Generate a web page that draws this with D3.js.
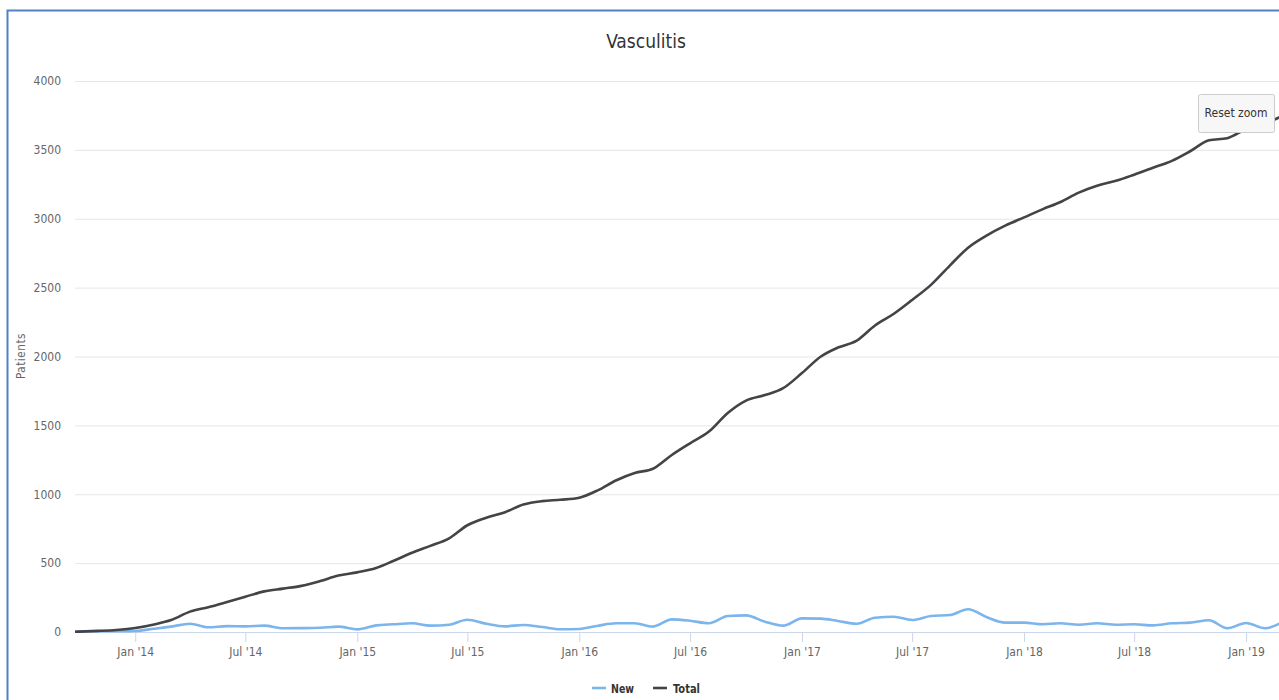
<!DOCTYPE html>
<html>
<head>
<meta charset="utf-8">
<script src="https://cdn.jsdelivr.net/npm/d3@7"></script>
<style>
  html, body { margin: 0; padding: 0; background: #fff; overflow: hidden; }
  svg { display: block; }
  text { font-family: "Liberation Sans Narrow", "DejaVu Sans Condensed", "Roboto Condensed", sans-serif; }
</style>
</head>
<body>
<svg id="chart" width="1279" height="700"></svg>
<script>
// ---- data (monthly) ----
const months = [
  "2013-09","2013-10","2013-11","2013-12",
  "2014-01","2014-02","2014-03","2014-04","2014-05","2014-06","2014-07","2014-08","2014-09","2014-10","2014-11","2014-12",
  "2015-01","2015-02","2015-03","2015-04","2015-05","2015-06","2015-07","2015-08","2015-09","2015-10","2015-11","2015-12",
  "2016-01","2016-02","2016-03","2016-04","2016-05","2016-06","2016-07","2016-08","2016-09","2016-10","2016-11","2016-12",
  "2017-01","2017-02","2017-03","2017-04","2017-05","2017-06","2017-07","2017-08","2017-09","2017-10","2017-11","2017-12",
  "2018-01","2018-02","2018-03","2018-04","2018-05","2018-06","2018-07","2018-08","2018-09","2018-10","2018-11","2018-12",
  "2019-01","2019-02","2019-03"
];
const newPatients = [
  2,4,5,6,
  7,24,39,60,34,43,41,46,27,28,31,39,
  19,48,56,63,46,53,89,60,41,51,36,20,
  22,46,63,63,39,92,82,63,116,121,75,46,
  99,97,80,60,104,111,87,116,123,165,107,68,
  68,56,63,53,63,53,56,48,63,68,85,27,
  65,27,70
];
const totalPatients = [
  0,3,8,15,
  29,55,87,148,180,218,256,295,315,335,370,410,
  433,465,515,575,625,680,775,830,870,925,950,960,
  975,1030,1100,1155,1185,1285,1370,1455,1590,1680,1720,1770,
  1880,2000,2065,2115,2225,2310,2410,2520,2660,2790,2880,2950,
  3010,3070,3120,3190,3240,3275,3320,3370,3420,3490,3570,3585,
  3650,3690,3745
];
const yTicks = [0,500,1000,1500,2000,2500,3000,3500,4000];
const xTickDates = ["2014-01","2014-07","2015-01","2015-07","2016-01","2016-07",
                    "2017-01","2017-07","2018-01","2018-07","2019-01"];
const xDomain = ["2013-09-24","2019-03-01"];
const seriesNames = ["New","Total"];
const seriesColors = ["#7cb5ec","#434348"];
const chartTitle = "Vasculitis";
const yTitle = "Patients";

// ---- layout ----
const FONT = '"Liberation Sans Narrow", "DejaVu Sans Condensed", sans-serif';
const svg = d3.select("#chart");
const plot = {left: 75, right: 1282, top: 81, bottom: 632};
const parseM = d3.timeParse("%Y-%m");
const parseD = d3.timeParse("%Y-%m-%d");

const x = d3.scaleTime()
  .domain(xDomain.map(parseD))
  .range([plot.left, plot.right]);
const y = d3.scaleLinear().domain([0, 4000]).range([plot.bottom, plot.top]);

// frame
svg.append("rect")
  .attr("x", 7.5).attr("y", 10.5)
  .attr("width", 1320).attr("height", 720)
  .attr("fill", "none").attr("stroke", "#4f81c3").attr("stroke-width", 2);

// title
svg.append("text")
  .attr("x", 646).attr("y", 48)
  .attr("text-anchor", "middle")
  .attr("font-size", 19).attr("fill", "#333333")
  .text(chartTitle);

// gridlines + y labels
const yAxis = d3.axisLeft(y).tickValues(yTicks).tickFormat(d3.format("d"))
  .tickSize(-(plot.right - plot.left + 20)).tickPadding(14);
const gy = svg.append("g").attr("transform", `translate(${plot.left},0)`).call(yAxis);
gy.select(".domain").remove();
gy.selectAll(".tick line").attr("stroke", "#e6e6e6").attr("stroke-width", 1);
gy.selectAll(".tick text").attr("font-size", 12).attr("fill", "#666666")
  .attr("font-family", FONT);

// y title
svg.append("text")
  .attr("transform", "translate(25,356) rotate(-90)")
  .attr("text-anchor", "middle")
  .attr("font-size", 11.5).attr("fill", "#666666")
  .attr("letter-spacing", 0.6)
  .text(yTitle);

// x axis
const xAxis = d3.axisBottom(x)
  .tickValues(xTickDates.map(parseM))
  .tickFormat(d3.timeFormat("%b '%y"))
  .tickSize(10).tickPadding(5);
const gx = svg.append("g").attr("transform", `translate(0,${plot.bottom})`).call(xAxis);
gx.select(".domain").attr("stroke", "#ccd6eb").attr("d", `M${plot.left},0.5H${plot.right + 20}`);
gx.selectAll(".tick line").attr("stroke", "#ccd6eb");
gx.selectAll(".tick text").attr("font-size", 12).attr("fill", "#666666")
  .attr("font-family", FONT);

// clip
svg.append("clipPath").attr("id", "plotclip")
  .append("rect").attr("x", plot.left).attr("y", plot.top - 10)
  .attr("width", plot.right - plot.left + 40).attr("height", plot.bottom - plot.top + 12);

const dates = months.map(parseM);
const line = d3.line().curve(d3.curveMonotoneX)
  .x((d, i) => x(dates[i])).y(d => y(d));

const series = [newPatients, totalPatients];
const gs = svg.append("g").attr("clip-path", "url(#plotclip)");
series.forEach((s, k) => {
  gs.append("path").datum(s)
    .attr("d", line)
    .attr("fill", "none")
    .attr("stroke", seriesColors[k])
    .attr("stroke-width", 2.6)
    .attr("stroke-linejoin", "round").attr("stroke-linecap", "round");
});

// legend
const legendItems = [{sx: 592, tx: 611}, {sx: 653, tx: 673}];
seriesNames.forEach((n, k) => {
  const g = svg.append("g");
  g.append("line")
    .attr("x1", legendItems[k].sx).attr("x2", legendItems[k].sx + 14)
    .attr("y1", 688).attr("y2", 688)
    .attr("stroke", seriesColors[k]).attr("stroke-width", 2.6);
  g.append("text")
    .attr("x", legendItems[k].tx).attr("y", 692.5)
    .attr("font-size", 12).attr("font-weight", "bold").attr("fill", "#333333")
    .attr("textLength", k === 0 ? 23 : 27).attr("lengthAdjust", "spacingAndGlyphs")
    .text(n);
});

// reset zoom button
const btn = svg.append("g");
btn.append("rect")
  .attr("x", 1198.5).attr("y", 94.5).attr("width", 76).attr("height", 38)
  .attr("rx", 2).attr("fill", "#f7f7f7").attr("stroke", "#cccccc");
btn.append("text")
  .attr("x", 1236).attr("y", 117)
  .attr("text-anchor", "middle")
  .attr("font-size", 12).attr("fill", "#333333")
  .text("Reset zoom");
</script>
</body>
</html>
